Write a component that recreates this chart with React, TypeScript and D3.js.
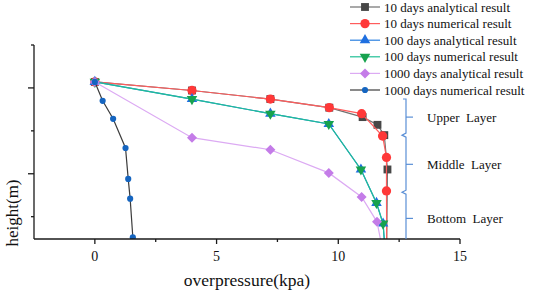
import React from 'react';
import * as d3 from 'd3';

// ---- data ----
const xMajorTicks = [0, 5, 10, 15];
const xMinorTicks = [2.5, 7.5, 12.5];
const yMajorTicks = [1, 2];
const yMinorTicks = [0.5, 1.5, 2.5];

const days10AnalyticalX = [0, 3.99, 7.21, 9.63, 11.0, 11.61, 11.89, 12.02, 11.98];
const days10AnalyticalH = [2.07, 1.97, 1.87, 1.77, 1.66, 1.57, 1.45, 1.05, 0];
const days10NumericalX = [0, 3.99, 7.21, 9.63, 10.96, 11.82, 11.98, 11.98, 11.99];
const days10NumericalH = [2.07, 1.97, 1.87, 1.77, 1.7, 1.44, 1.19, 0.8, 0];
const days100AnalyticalX = [0, 3.99, 7.21, 9.61, 10.93, 11.57, 11.84, 11.95];
const days100AnalyticalH = [2.07, 1.87, 1.7, 1.58, 1.05, 0.66, 0.42, 0];
const days100NumericalX = [0, 3.99, 7.21, 9.61, 10.93, 11.57, 11.84, 11.95];
const days100NumericalH = [2.07, 1.87, 1.7, 1.58, 1.05, 0.66, 0.42, 0];
const days1000AnalyticalX = [0, 3.99, 7.21, 9.61, 10.96, 11.59, 11.9];
const days1000AnalyticalH = [2.07, 1.42, 1.28, 1.01, 0.73, 0.44, 0];
const days1000NumericalX = [0, 0.32, 0.75, 1.26, 1.37, 1.45, 1.56];
const days1000NumericalH = [2.07, 1.85, 1.64, 1.3, 0.94, 0.71, 0.26];

const seriesNames = [
  '10 days analytical result',
  '10 days numerical result',
  '100 days analytical result',
  '100 days numerical result',
  '1000 days analytical result',
  '1000 days numerical result',
];

const layerLabels = ['Upper  Layer', 'Middle  Layer', 'Bottom  Layer'];
const layerCenters = [1.66, 1.11, 0.48];
const layerBounds = [1.45, 0.785];

// ---- layout ----
const W = 533;
const H = 294;
const x = d3.scaleLinear().domain([-2.5, 15]).range([34, 460]);
const y = d3.scaleLinear().domain([0.24, 2.5]).range([239, 45]);

type Series = {
  name: string;
  xs: number[];
  hs: number[];
  line: string;
  fill: string;
  symbol: d3.SymbolType;
  size: number;
  rotate: number;
};

const diamondSym = d3.symbolSquare;

const series: Series[] = [
  { name: seriesNames[0], xs: days10AnalyticalX, hs: days10AnalyticalH, line: '#707070', fill: '#474747', symbol: d3.symbolSquare, size: 62, rotate: 0 },
  { name: seriesNames[1], xs: days10NumericalX, hs: days10NumericalH, line: '#ff5c5c', fill: '#ff3838', symbol: d3.symbolCircle, size: 68, rotate: 0 },
  { name: seriesNames[2], xs: days100AnalyticalX, hs: days100AnalyticalH, line: '#2a7fe0', fill: '#1f6fe0', symbol: d3.symbolTriangle, size: 48, rotate: 0 },
  { name: seriesNames[3], xs: days100NumericalX, hs: days100NumericalH, line: '#1fbf95', fill: '#17a24e', symbol: d3.symbolTriangle, size: 48, rotate: 180 },
  { name: seriesNames[4], xs: days1000AnalyticalX, hs: days1000AnalyticalH, line: '#dcaaf3', fill: '#c47ce8', symbol: diamondSym, size: 50, rotate: 45 },
  { name: seriesNames[5], xs: days1000NumericalX, hs: days1000NumericalH, line: '#3c3c3c', fill: '#1565c0', symbol: d3.symbolCircle, size: 30, rotate: 0 },
];

const serif = '"Liberation Serif", "Times New Roman", serif';

export default function App() {
  const lineGen = d3
    .line<[number, number]>()
    .x((d) => x(d[0]))
    .y((d) => y(d[1]));

  const legendX0 = 350;
  const legendY0 = 7;
  const legendDy = 16.6;

  const bx = 406;
  const bTop = 99;
  const bBot = y.range()[0];
  const n1 = y(layerBounds[0]);
  const n2 = y(layerBounds[1]);
  const bracketPath =
    `M${bx - 3},${bTop} L${bx},${bTop} L${bx},${n1 - 2} L${bx - 4},${n1} L${bx},${n1 + 2} ` +
    `L${bx},${n2 - 2} L${bx - 4},${n2} L${bx},${n2 + 2} L${bx},${bBot}`;

  return (
    <svg
      width={W}
      height={H}
      style={{ position: 'absolute', left: 0, top: 0, background: '#fff' }}
      fontFamily={serif}
    >
      <defs>
        <clipPath id="plotClip">
          <rect x={x.range()[0]} y={y.range()[1] - 10} width={x.range()[1] - x.range()[0]} height={y.range()[0] - y.range()[1] + 10} />
        </clipPath>
      </defs>

      {/* series */}
      <g clipPath="url(#plotClip)">
        {series.map((s, i) => {
          const pts = s.xs.map((v, j) => [v, s.hs[j]] as [number, number]);
          const sym = d3.symbol().type(s.symbol).size(s.size)() || '';
          return (
            <g key={i}>
              <path d={lineGen(pts) || ''} fill="none" stroke={s.line} strokeWidth={1.2} />
              {pts.map((p, j) => (
                <path
                  key={j}
                  d={sym}
                  fill={s.fill}
                  transform={`translate(${x(p[0])},${y(p[1])}) rotate(${s.rotate})`}
                />
              ))}
            </g>
          );
        })}
      </g>

      {/* axes */}
      <g stroke="#1a1a1a" strokeWidth={1.3} fill="none">
        <line x1={x.range()[0]} x2={x.range()[1]} y1={y.range()[0]} y2={y.range()[0]} />
        <line x1={x.range()[0]} x2={x.range()[0]} y1={y.range()[0]} y2={y.range()[1]} />
        {xMajorTicks.map((t) => (
          <line key={t} x1={x(t)} x2={x(t)} y1={y.range()[0]} y2={y.range()[0] + 5} />
        ))}
        {xMinorTicks.map((t) => (
          <line key={t} x1={x(t)} x2={x(t)} y1={y.range()[0]} y2={y.range()[0] + 3} />
        ))}
        {yMajorTicks.map((t) => (
          <line key={t} x1={x.range()[0]} x2={x.range()[0] - 6} y1={y(t)} y2={y(t)} />
        ))}
        {yMinorTicks.map((t) => (
          <line key={t} x1={x.range()[0]} x2={x.range()[0] - 3} y1={y(t)} y2={y(t)} />
        ))}
      </g>
      {xMajorTicks.map((t) => (
        <text key={t} x={x(t)} y={261} fontSize={14} textAnchor="middle" fill="#111">
          {t}
        </text>
      ))}
      <text x={247} y={286} fontSize={17.5} textAnchor="middle" fill="#111">
        overpressure(kpa)
      </text>
      <text transform="translate(18,213) rotate(-90)" fontSize={17} textAnchor="middle" fill="#111">
        height(m)
      </text>

      {/* layer bracket */}
      <path d={bracketPath} fill="none" stroke="#5a8fd6" strokeWidth={1.2} />
      {layerCenters.map((c, i) => (
        <g key={i}>
          <line x1={bx} x2={bx + 7} y1={y(c)} y2={y(c)} stroke="#5a8fd6" strokeWidth={1.2} />
          <text x={427} y={y(c) + 4.5} fontSize={13} fill="#111" xmlSpace="preserve" style={{ whiteSpace: 'pre' }}>
            {layerLabels[i]}
          </text>
        </g>
      ))}

      {/* legend */}
      {series.map((s, i) => {
        const ly = legendY0 + i * legendDy;
        const sym = d3.symbol().type(s.symbol).size(s.size)() || '';
        return (
          <g key={i}>
            <line x1={legendX0} x2={legendX0 + 30} y1={ly} y2={ly} stroke={s.line} strokeWidth={1.2} />
            <path d={sym} fill={s.fill} transform={`translate(${legendX0 + 15},${ly}) rotate(${s.rotate})`} />
            <text x={384} y={ly + 4.5} fontSize={13} fill="#111">
              {s.name}
            </text>
          </g>
        );
      })}
    </svg>
  );
}
